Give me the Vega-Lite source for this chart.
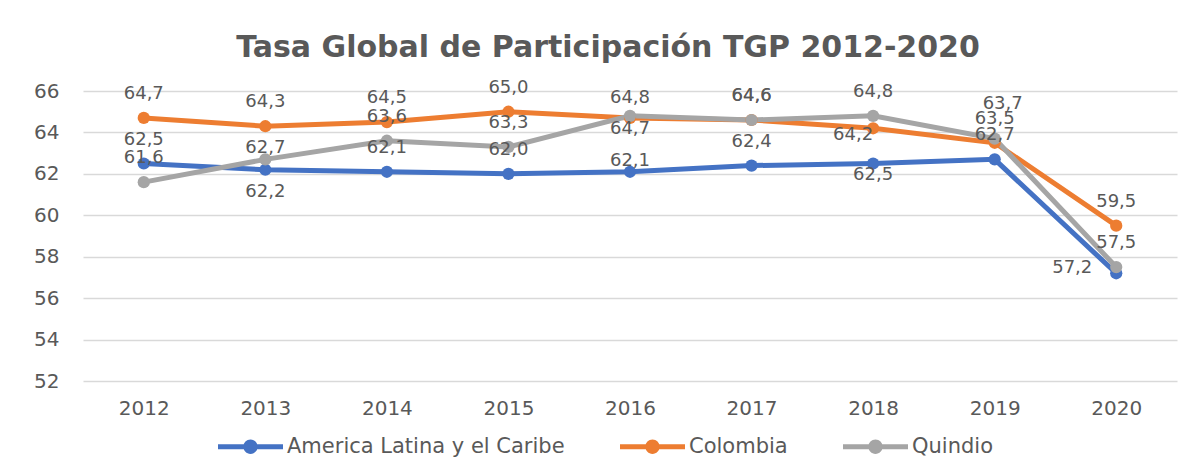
{
  "$schema": "https://vega.github.io/schema/vega-lite/v6.json",
  "width": 1094,
  "height": 290,
  "autosize": {"type": "none"},
  "padding": {"left": 83, "top": 91, "right": 14, "bottom": 103},
  "background": "white",
  "title": {
    "text": "Tasa Global de Participación TGP 2012-2020",
    "font": "DejaVu Sans",
    "fontSize": 30,
    "fontWeight": "bold",
    "color": "#595959",
    "anchor": "middle",
    "offset": 16,
    "dx": -22
  },
  "data": {
    "values": [
      {"serie": "America Latina y el Caribe", "anio": "2012", "valor": 62.5},
      {"serie": "America Latina y el Caribe", "anio": "2013", "valor": 62.2},
      {"serie": "America Latina y el Caribe", "anio": "2014", "valor": 62.1},
      {"serie": "America Latina y el Caribe", "anio": "2015", "valor": 62.0},
      {"serie": "America Latina y el Caribe", "anio": "2016", "valor": 62.1},
      {"serie": "America Latina y el Caribe", "anio": "2017", "valor": 62.4},
      {"serie": "America Latina y el Caribe", "anio": "2018", "valor": 62.5},
      {"serie": "America Latina y el Caribe", "anio": "2019", "valor": 62.7},
      {"serie": "America Latina y el Caribe", "anio": "2020", "valor": 57.2},
      {"serie": "Colombia", "anio": "2012", "valor": 64.7},
      {"serie": "Colombia", "anio": "2013", "valor": 64.3},
      {"serie": "Colombia", "anio": "2014", "valor": 64.5},
      {"serie": "Colombia", "anio": "2015", "valor": 65.0},
      {"serie": "Colombia", "anio": "2016", "valor": 64.7},
      {"serie": "Colombia", "anio": "2017", "valor": 64.6},
      {"serie": "Colombia", "anio": "2018", "valor": 64.2},
      {"serie": "Colombia", "anio": "2019", "valor": 63.5},
      {"serie": "Colombia", "anio": "2020", "valor": 59.5},
      {"serie": "Quindio", "anio": "2012", "valor": 61.6},
      {"serie": "Quindio", "anio": "2013", "valor": 62.7},
      {"serie": "Quindio", "anio": "2014", "valor": 63.6},
      {"serie": "Quindio", "anio": "2015", "valor": 63.3},
      {"serie": "Quindio", "anio": "2016", "valor": 64.8},
      {"serie": "Quindio", "anio": "2017", "valor": 64.6},
      {"serie": "Quindio", "anio": "2018", "valor": 64.8},
      {"serie": "Quindio", "anio": "2019", "valor": 63.7},
      {"serie": "Quindio", "anio": "2020", "valor": 57.5}
    ]
  },
  "encoding": {
    "x": {
      "field": "anio",
      "type": "ordinal",
      "scale": {"type": "point", "padding": 0.5},
      "axis": {
        "title": null,
        "labelAngle": 0,
        "domain": false,
        "ticks": false,
        "labelPadding": 17,
        "labelFontSize": 20,
        "labelFont": "DejaVu Sans",
        "labelColor": "#595959"
      }
    },
    "y": {
      "field": "valor",
      "type": "quantitative",
      "scale": {"domain": [52, 66], "nice": false, "zero": false},
      "axis": {
        "title": null,
        "values": [52, 54, 56, 58, 60, 62, 64, 66],
        "domain": false,
        "ticks": false,
        "labelPadding": 24,
        "labelFontSize": 20,
        "labelFont": "DejaVu Sans",
        "labelColor": "#595959",
        "gridColor": "#D9D9D9",
        "gridWidth": 1.5
      }
    },
    "color": {
      "field": "serie",
      "type": "nominal",
      "scale": {
        "domain": ["America Latina y el Caribe", "Colombia", "Quindio"],
        "range": ["#4472C4", "#ED7D31", "#A5A5A5"]
      },
      "legend": {
        "title": null,
        "orient": "none",
        "direction": "horizontal",
        "legendX": 135,
        "legendY": 323,
        "symbolType": "M-1,-0.08H-0.2V0.08H-1Z M0.2,-0.08H1V0.08H0.2Z M-0.22,0A0.22,0.22 0 1,1 0.22,0A0.22,0.22 0 1,1 -0.22,0Z",
        "symbolSize": 4225,
        "symbolStrokeWidth": 0,
        "labelOffset": 4,
        "labelLimit": 0,
        "columnPadding": 55,
        "labelFontSize": 21,
        "labelFont": "DejaVu Sans",
        "labelColor": "#595959",
        "encode": {
          "symbols": {
            "update": {
              "fill": {"scale": "color", "field": "value"},
              "strokeWidth": {"value": 0}
            }
          }
        }
      }
    }
  },
  "layer": [
    {"mark": {"type": "line", "strokeWidth": 5}},
    {"mark": {"type": "point", "filled": true, "size": 150, "opacity": 1}},
    {
      "transform": [{"filter": "!((datum.serie=='America Latina y el Caribe' && indexof(['2013','2016','2018','2020'], datum.anio) >= 0) || (datum.serie=='Colombia' && indexof(['2016','2018'], datum.anio) >= 0) || (datum.serie=='Quindio' && indexof(['2013','2016','2019'], datum.anio) >= 0))"}],
      "mark": {"type": "text", "dy": -24, "fontSize": 18, "font": "DejaVu Sans"},
      "encoding": {"text": {"field": "valor", "type": "quantitative", "format": ".1f"}, "color": {"value": "#595959"}}
    },
    {
      "transform": [{"filter": "datum.serie=='America Latina y el Caribe' && datum.anio=='2013'"}],
      "mark": {"type": "text", "dy": 22, "fontSize": 18, "font": "DejaVu Sans"},
      "encoding": {"text": {"field": "valor", "type": "quantitative", "format": ".1f"}, "color": {"value": "#595959"}}
    },
    {
      "transform": [{"filter": "(datum.serie=='Colombia' && datum.anio=='2016') || (datum.serie=='America Latina y el Caribe' && datum.anio=='2018')"}],
      "mark": {"type": "text", "dy": 11, "fontSize": 18, "font": "DejaVu Sans"},
      "encoding": {"text": {"field": "valor", "type": "quantitative", "format": ".1f"}, "color": {"value": "#595959"}}
    },
    {
      "transform": [{"filter": "datum.serie=='Colombia' && datum.anio=='2018'"}],
      "mark": {"type": "text", "dx": -20, "dy": 7, "fontSize": 18, "font": "DejaVu Sans"},
      "encoding": {"text": {"field": "valor", "type": "quantitative", "format": ".1f"}, "color": {"value": "#595959"}}
    },
    {
      "transform": [{"filter": "(datum.serie=='America Latina y el Caribe' && datum.anio=='2016') || (datum.serie=='Quindio' && datum.anio=='2013')"}],
      "mark": {"type": "text", "dy": -11, "fontSize": 18, "font": "DejaVu Sans"},
      "encoding": {"text": {"field": "valor", "type": "quantitative", "format": ".1f"}, "color": {"value": "#595959"}}
    },
    {
      "transform": [{"filter": "datum.serie=='Quindio' && datum.anio=='2016'"}],
      "mark": {"type": "text", "dy": -18, "fontSize": 18, "font": "DejaVu Sans"},
      "encoding": {"text": {"field": "valor", "type": "quantitative", "format": ".1f"}, "color": {"value": "#595959"}}
    },
    {
      "transform": [{"filter": "datum.serie=='America Latina y el Caribe' && datum.anio=='2020'"}],
      "mark": {"type": "text", "dx": -44, "dy": -5, "fontSize": 18, "font": "DejaVu Sans"},
      "encoding": {"text": {"field": "valor", "type": "quantitative", "format": ".1f"}, "color": {"value": "#595959"}}
    },
    {
      "transform": [{"filter": "datum.serie=='Quindio' && datum.anio=='2019'"}],
      "mark": {"type": "text", "dx": 8, "dy": -35, "fontSize": 18, "font": "DejaVu Sans"},
      "encoding": {"text": {"field": "valor", "type": "quantitative", "format": ".1f"}, "color": {"value": "#595959"}}
    }
  ],
  "config": {
    "locale": {
      "number": {"decimal": ",", "thousands": ".", "grouping": [3], "currency": ["$", ""]}
    },
    "view": {"stroke": null}
  }
}
